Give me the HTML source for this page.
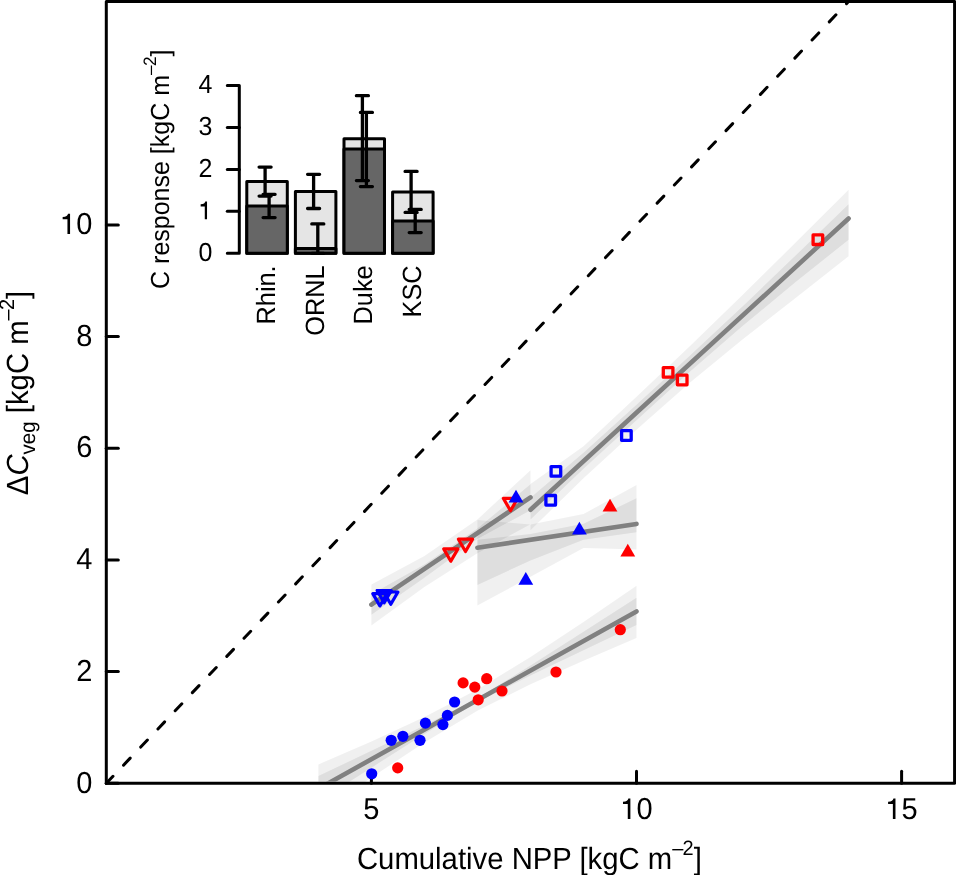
<!DOCTYPE html>
<html><head><meta charset="utf-8"><style>html,body{margin:0;padding:0;background:#fff;}svg{display:block;} text{filter:grayscale(1);text-rendering:geometricPrecision;}</style></head>
<body><svg width="956" height="875" viewBox="0 0 956 875">
<defs><clipPath id="plotclip"><rect x="107.8" y="3" width="845.3" height="778.8"/></clipPath></defs>
<rect width="956" height="875" fill="#fff"/>
<rect x="106.3" y="1.5" width="848.3" height="781.8" fill="none" stroke="#000" stroke-width="3" stroke-linejoin="round"/>
<line x1="106.3" y1="783.3" x2="118.3" y2="783.3" stroke="#000" stroke-width="3" stroke-linecap="round"/>
<text transform="translate(76.18,792.50) scale(1,1.045)" font-family="Liberation Sans" font-size="29">0</text>
<line x1="106.3" y1="671.6" x2="118.3" y2="671.6" stroke="#000" stroke-width="3" stroke-linecap="round"/>
<text transform="translate(76.18,680.82) scale(1,1.045)" font-family="Liberation Sans" font-size="29">2</text>
<line x1="106.3" y1="559.9" x2="118.3" y2="559.9" stroke="#000" stroke-width="3" stroke-linecap="round"/>
<text transform="translate(76.18,569.14) scale(1,1.045)" font-family="Liberation Sans" font-size="29">4</text>
<line x1="106.3" y1="448.3" x2="118.3" y2="448.3" stroke="#000" stroke-width="3" stroke-linecap="round"/>
<text transform="translate(76.18,457.46) scale(1,1.045)" font-family="Liberation Sans" font-size="29">6</text>
<line x1="106.3" y1="336.6" x2="118.3" y2="336.6" stroke="#000" stroke-width="3" stroke-linecap="round"/>
<text transform="translate(76.18,345.78) scale(1,1.045)" font-family="Liberation Sans" font-size="29">8</text>
<line x1="106.3" y1="224.9" x2="118.3" y2="224.9" stroke="#000" stroke-width="3" stroke-linecap="round"/>
<path d="M67.45,234.10H70.06V213.71H68.03C67.65,215.54 66.29,216.70 62.66,216.93V219.31H67.45Z" fill="#000"/>
<text transform="translate(76.18,234.10) scale(1,1.045)" font-family="Liberation Sans" font-size="29">0</text>
<line x1="371.4" y1="783.3" x2="371.4" y2="771.3" stroke="#000" stroke-width="3" stroke-linecap="round"/>
<text transform="translate(363.34,818.90) scale(1,1.045)" font-family="Liberation Sans" font-size="29">5</text>
<line x1="636.5" y1="783.3" x2="636.5" y2="771.3" stroke="#000" stroke-width="3" stroke-linecap="round"/>
<path d="M627.77,818.90H630.38V798.51H628.35C627.97,800.34 626.61,801.50 622.99,801.73V804.11H627.77Z" fill="#000"/>
<text transform="translate(636.50,818.90) scale(1,1.045)" font-family="Liberation Sans" font-size="29">0</text>
<line x1="901.6" y1="783.3" x2="901.6" y2="771.3" stroke="#000" stroke-width="3" stroke-linecap="round"/>
<path d="M892.87,818.90H895.48V798.51H893.45C893.07,800.34 891.71,801.50 888.09,801.73V804.11H892.87Z" fill="#000"/>
<text transform="translate(901.60,818.90) scale(1,1.045)" font-family="Liberation Sans" font-size="29">5</text>
<text transform="translate(529.4,868.8) scale(1,1.045)" font-family="Liberation Sans" font-size="29.3" text-anchor="middle">Cumulative NPP [kgC m<tspan font-size="20" dy="-13">–</tspan><tspan font-size="20" dx="-0.8">2</tspan><tspan dy="13">]</tspan></text>
<text transform="translate(27.5,393.0) rotate(-90) scale(1,1.045)" font-family="Liberation Sans" font-size="29.3" text-anchor="middle">Δ<tspan font-style="italic">C</tspan><tspan font-size="20.5" dy="7.6">veg</tspan><tspan dy="-7.6"> [kgC m</tspan><tspan font-size="20" dy="-13">–</tspan><tspan font-size="20" dx="-0.8">2</tspan><tspan dy="13">]</tspan></text>
<g clip-path="url(#plotclip)">
<polygon points="318.4,764.4 371.4,741.4 424.4,717.1 477.4,689.5 530.5,657.1 583.5,621.9 636.5,585.7 636.5,638.1 583.5,660.7 530.5,684.2 477.4,710.7 424.4,742.4 371.4,777.6 318.4,814.0" fill="rgba(0,0,0,0.06)"/>
<polygon points="318.4,776.1 371.4,750.8 424.4,725.4 477.4,698.3 530.5,665.5 583.5,631.7 636.5,597.8 636.5,625.0 583.5,650.2 530.5,675.6 477.4,701.9 424.4,733.9 371.4,767.7 318.4,801.5" fill="rgba(0,0,0,0.075)"/>
<polygon points="371.4,584.6 424.4,556.0 477.4,519.4 530.5,470.3 530.5,524.3 477.4,553.2 424.4,587.0 371.4,625.4" fill="rgba(0,0,0,0.06)"/>
<polygon points="371.4,594.3 424.4,564.6 477.4,528.6 530.5,484.3 530.5,510.3 477.4,538.9 424.4,577.8 371.4,614.7" fill="rgba(0,0,0,0.075)"/>
<polygon points="477.4,519.9 530.5,524.5 583.5,514.0 636.5,485.1 636.5,549.5 583.5,548.0 530.5,576.8 477.4,605.6" fill="rgba(0,0,0,0.06)"/>
<polygon points="477.4,539.8 530.5,533.9 583.5,523.8 636.5,498.3 636.5,532.2 583.5,539.8 530.5,560.4 477.4,585.0" fill="rgba(0,0,0,0.075)"/>
<polygon points="530.5,484.0 583.5,446.2 636.5,396.7 689.5,346.6 742.5,295.1 795.6,242.6 848.6,189.7 848.6,256.3 795.6,298.1 742.5,339.6 689.5,383.1 636.5,429.7 583.5,478.2 530.5,530.3" fill="rgba(0,0,0,0.06)"/>
<polygon points="530.5,497.7 583.5,452.8 636.5,404.7 689.5,356.1 742.5,306.6 795.6,255.6 848.6,204.3 848.6,239.7 795.6,282.1 742.5,326.1 689.5,372.1 636.5,420.2 583.5,468.8 530.5,519.4" fill="rgba(0,0,0,0.075)"/>
<line x1="318.4" y1="788.8" x2="636.5" y2="611.4" stroke="#808080" stroke-width="4.6" stroke-linecap="round"/>
<line x1="371.4" y1="604.7" x2="530.5" y2="497.3" stroke="#808080" stroke-width="4.6" stroke-linecap="round"/>
<line x1="477.4" y1="547.7" x2="636.5" y2="523.9" stroke="#808080" stroke-width="4.6" stroke-linecap="round"/>
<line x1="530.5" y1="509.8" x2="848.6" y2="218.5" stroke="#808080" stroke-width="4.6" stroke-linecap="round"/>
</g>
<line x1="106.3" y1="783.3" x2="848.6" y2="1.5" stroke="#000" stroke-width="3" stroke-dasharray="9.7 15.3" stroke-linecap="round"/>
<circle cx="371.7" cy="773.8" r="5.6" fill="#0000FF"/>
<circle cx="391.2" cy="740.3" r="5.6" fill="#0000FF"/>
<circle cx="402.9" cy="736.3" r="5.6" fill="#0000FF"/>
<circle cx="420.0" cy="740.3" r="5.6" fill="#0000FF"/>
<circle cx="425.4" cy="723.1" r="5.6" fill="#0000FF"/>
<circle cx="442.9" cy="724.6" r="5.6" fill="#0000FF"/>
<circle cx="447.4" cy="715.4" r="5.6" fill="#0000FF"/>
<circle cx="454.6" cy="702.0" r="5.6" fill="#0000FF"/>
<circle cx="397.7" cy="767.9" r="5.6" fill="#FF0000"/>
<circle cx="463.1" cy="682.9" r="5.6" fill="#FF0000"/>
<circle cx="474.8" cy="687.1" r="5.6" fill="#FF0000"/>
<circle cx="486.7" cy="678.7" r="5.6" fill="#FF0000"/>
<circle cx="478.2" cy="699.8" r="5.6" fill="#FF0000"/>
<circle cx="502" cy="691" r="5.6" fill="#FF0000"/>
<circle cx="556" cy="672" r="5.6" fill="#FF0000"/>
<circle cx="620.3" cy="629.7" r="5.6" fill="#FF0000"/>
<polygon points="372.8,593.6 387.0,593.6 379.9,605.9" fill="none" stroke="#0000FF" stroke-width="3.2" stroke-linejoin="round"/>
<polygon points="377.1,590.5 391.3,590.5 384.2,602.8" fill="none" stroke="#0000FF" stroke-width="3.2" stroke-linejoin="round"/>
<polygon points="383.7,592.0 397.9,592.0 390.8,604.3" fill="none" stroke="#0000FF" stroke-width="3.2" stroke-linejoin="round"/>
<polygon points="443.7,548.9 457.9,548.9 450.8,561.2" fill="none" stroke="#FF0000" stroke-width="3.2" stroke-linejoin="round"/>
<polygon points="458.4,539.2 472.6,539.2 465.5,551.5" fill="none" stroke="#FF0000" stroke-width="3.2" stroke-linejoin="round"/>
<polygon points="503.4,498.4 517.6,498.4 510.5,510.7" fill="none" stroke="#FF0000" stroke-width="3.2" stroke-linejoin="round"/>
<polygon points="508.6,502.5 523.4,502.5 516.0,489.7" fill="#0000FF"/>
<polygon points="572.0,534.5 586.8,534.5 579.4,521.7" fill="#0000FF"/>
<polygon points="518.4,584.7 533.2,584.7 525.8,571.9" fill="#0000FF"/>
<polygon points="602.6,511.5 617.4,511.5 610.0,498.7" fill="#FF0000"/>
<polygon points="620.4,556.5 635.2,556.5 627.8,543.7" fill="#FF0000"/>
<rect x="621.6" y="430.7" width="9.6" height="9.6" fill="none" stroke="#0000FF" stroke-width="3.3" stroke-linejoin="round"/>
<rect x="551.1" y="466.6" width="9.6" height="9.6" fill="none" stroke="#0000FF" stroke-width="3.3" stroke-linejoin="round"/>
<rect x="545.9" y="495.5" width="9.6" height="9.6" fill="none" stroke="#0000FF" stroke-width="3.3" stroke-linejoin="round"/>
<rect x="663.3" y="367.6" width="9.6" height="9.6" fill="none" stroke="#FF0000" stroke-width="3.3" stroke-linejoin="round"/>
<rect x="677.4" y="375.2" width="9.6" height="9.6" fill="none" stroke="#FF0000" stroke-width="3.3" stroke-linejoin="round"/>
<rect x="813.1" y="234.9" width="9.6" height="9.6" fill="none" stroke="#FF0000" stroke-width="3.3" stroke-linejoin="round"/>
<rect x="246.8" y="181.5" width="40.5" height="71.8" fill="#E5E5E5" stroke="#000" stroke-width="3" stroke-linejoin="round"/>
<rect x="246.8" y="206.0" width="40.5" height="47.3" fill="#666666" stroke="#000" stroke-width="3" stroke-linejoin="round"/>
<rect x="295.4" y="191.5" width="40.5" height="61.8" fill="#E5E5E5" stroke="#000" stroke-width="3" stroke-linejoin="round"/>
<rect x="295.4" y="248.5" width="40.5" height="4.8" fill="#666666" stroke="#000" stroke-width="3" stroke-linejoin="round"/>
<rect x="344.0" y="138.7" width="40.5" height="114.6" fill="#E5E5E5" stroke="#000" stroke-width="3" stroke-linejoin="round"/>
<rect x="344.0" y="149.1" width="40.5" height="104.2" fill="#666666" stroke="#000" stroke-width="3" stroke-linejoin="round"/>
<rect x="392.6" y="192.0" width="40.5" height="61.3" fill="#E5E5E5" stroke="#000" stroke-width="3" stroke-linejoin="round"/>
<rect x="392.6" y="221.1" width="40.5" height="32.2" fill="#666666" stroke="#000" stroke-width="3" stroke-linejoin="round"/>
<path d="M265.1,167.1 V196.1 M259.1,167.1 H271.1 M259.1,196.1 H271.1" stroke="#000" stroke-width="3.3" stroke-linecap="round" fill="none"/>
<path d="M269.1,194.3 V217.6 M263.1,194.3 H275.1 M263.1,217.6 H275.1" stroke="#000" stroke-width="3.3" stroke-linecap="round" fill="none"/>
<path d="M313.6,174.3 V208.5 M307.6,174.3 H319.6 M307.6,208.5 H319.6" stroke="#000" stroke-width="3.3" stroke-linecap="round" fill="none"/>
<path d="M317.8,223.9 V253.3 M311.8,223.9 H323.8 M311.8,253.3 H323.8" stroke="#000" stroke-width="3.3" stroke-linecap="round" fill="none"/>
<path d="M362.4,95.7 V180.6 M356.4,95.7 H368.4 M356.4,180.6 H368.4" stroke="#000" stroke-width="3.3" stroke-linecap="round" fill="none"/>
<path d="M366.4,112.4 V186.6 M360.4,112.4 H372.4 M360.4,186.6 H372.4" stroke="#000" stroke-width="3.3" stroke-linecap="round" fill="none"/>
<path d="M411.1,171.4 V212.4 M405.1,171.4 H417.1 M405.1,212.4 H417.1" stroke="#000" stroke-width="3.3" stroke-linecap="round" fill="none"/>
<path d="M415.2,209.4 V232.6 M409.2,209.4 H421.2 M409.2,232.6 H421.2" stroke="#000" stroke-width="3.3" stroke-linecap="round" fill="none"/>
<path d="M227.3,85.4 H239.3 V253.3 H227.3" stroke="#000" stroke-width="3" stroke-linecap="round" stroke-linejoin="round" fill="none"/>
<line x1="227.3" y1="211.3" x2="239.3" y2="211.3" stroke="#000" stroke-width="3" stroke-linecap="round"/>
<line x1="227.3" y1="169.4" x2="239.3" y2="169.4" stroke="#000" stroke-width="3" stroke-linecap="round"/>
<line x1="227.3" y1="127.4" x2="239.3" y2="127.4" stroke="#000" stroke-width="3" stroke-linecap="round"/>
<text transform="translate(198.40,261.10) scale(1,1.045)" font-family="Liberation Sans" font-size="25">0</text>
<path d="M204.78,219.13H207.03V201.55H205.28C204.95,203.13 203.78,204.13 200.65,204.33V206.38H204.78Z" fill="#000"/>
<text transform="translate(198.40,177.15) scale(1,1.045)" font-family="Liberation Sans" font-size="25">2</text>
<text transform="translate(198.40,135.18) scale(1,1.045)" font-family="Liberation Sans" font-size="25">3</text>
<text transform="translate(198.40,93.20) scale(1,1.045)" font-family="Liberation Sans" font-size="25">4</text>
<text transform="translate(169.2,169.2) rotate(-90) scale(1,1.045)" font-family="Liberation Sans" font-size="25" text-anchor="middle">C response [kgC m<tspan font-size="17.2" dy="-13">–</tspan><tspan font-size="17.2" dx="-0.6">2</tspan><tspan dy="13">]</tspan></text>
<text transform="translate(274.9,265.4) rotate(-90) scale(1,1.045)" font-family="Liberation Sans" font-size="25.3" text-anchor="end">Rhin.</text>
<text transform="translate(323.6,265.4) rotate(-90) scale(1,1.045)" font-family="Liberation Sans" font-size="25.3" text-anchor="end">ORNL</text>
<text transform="translate(372.1,265.4) rotate(-90) scale(1,1.045)" font-family="Liberation Sans" font-size="25.3" text-anchor="end">Duke</text>
<text transform="translate(420.8,265.4) rotate(-90) scale(1,1.045)" font-family="Liberation Sans" font-size="25.3" text-anchor="end">KSC</text>
</svg></body></html>
